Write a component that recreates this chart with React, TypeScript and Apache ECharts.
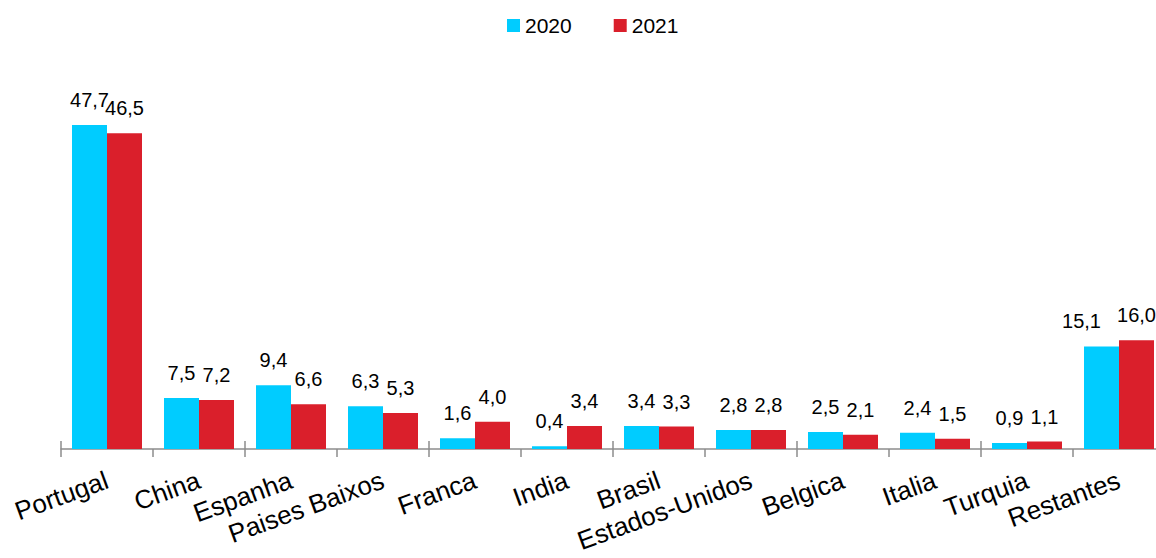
import React, { useEffect, useRef } from "react";
import * as echarts from "echarts";

const categories = [
  "Portugal",
  "China",
  "Espanha",
  "Paises Baixos",
  "Franca",
  "India",
  "Brasil",
  "Estados-Unidos",
  "Belgica",
  "Italia",
  "Turquia",
  "Restantes",
];
const values2020 = [47.7, 7.5, 9.4, 6.3, 1.6, 0.4, 3.4, 2.8, 2.5, 2.4, 0.9, 15.1];
const values2021 = [46.5, 7.2, 6.6, 5.3, 4.0, 3.4, 3.3, 2.8, 2.1, 1.5, 1.1, 16.0];
const seriesNames = ["2020", "2021"];
const colors = ["#00CCFF", "#DA1F2B"];

const FONT = "'Liberation Sans', Arial, sans-serif";

const fmt = (v: number) => v.toFixed(1).replace(".", ",");

export default function App() {
  const ref = useRef<HTMLDivElement>(null);
  useEffect(() => {
    if (!ref.current) return;
    const chart = echarts.init(ref.current, undefined, { renderer: "svg" });
    const label = {
      show: true,
      position: "top",
      distance: 15,
      fontSize: 20,
      fontFamily: FONT,
      color: "#000",
      formatter: (p: any) => fmt(p.value),
    };
    // Last category's 2020 label is nudged left so it does not collide with the 2021 one
    const data2020 = values2020.map((v, i) =>
      i === values2020.length - 1 ? { value: v, label: { offset: [-20, 0] } } : v
    );
    chart.setOption({
      animation: false,
      backgroundColor: "#fff",
      textStyle: { fontFamily: FONT },
      legend: {
        data: seriesNames,
        left: 502,
        top: 10,
        itemWidth: 13,
        itemHeight: 13,
        itemGap: 42,
        icon: "rect",
        textStyle: { fontSize: 21, fontFamily: FONT, color: "#000" },
      },
      grid: { left: 61, right: 0, top: 41.5, bottom: 109, containLabel: false },
      xAxis: [
        {
          type: "category",
          data: categories,
          position: "bottom",
          axisLine: { show: true, lineStyle: { color: "#8c8c8c", width: 1.5 } },
          axisTick: { show: true, length: 8, lineStyle: { color: "#8c8c8c", width: 1.5 } },
          axisLabel: {
            interval: 0,
            rotate: 20,
            margin: 30,
            fontSize: 26,
            fontFamily: FONT,
            color: "#000",
          },
        },
        {
          type: "category",
          data: categories,
          position: "bottom",
          axisLine: { show: false },
          axisTick: { show: true, inside: true, length: 8, lineStyle: { color: "#8c8c8c", width: 1.5 } },
          axisLabel: { show: false },
        },
      ],
      yAxis: {
        type: "value",
        min: 0,
        max: 60,
        show: false,
        splitLine: { show: false },
      },
      series: [
        {
          name: seriesNames[0],
          type: "bar",
          data: data2020,
          barWidth: 35,
          barGap: "0%",
          itemStyle: { color: colors[0] },
          label,
        },
        {
          name: seriesNames[1],
          type: "bar",
          data: values2021,
          barWidth: 35,
          barGap: "0%",
          itemStyle: { color: colors[1] },
          label,
        },
      ],
    });
    return () => chart.dispose();
  }, []);
  return (
    <div
      style={{
        position: "fixed",
        left: 0,
        top: 0,
        width: 1156,
        height: 558,
        overflow: "hidden",
        background: "#fff",
      }}
    >
      <div ref={ref} style={{ width: 1165, height: 558 }} />
    </div>
  );
}
